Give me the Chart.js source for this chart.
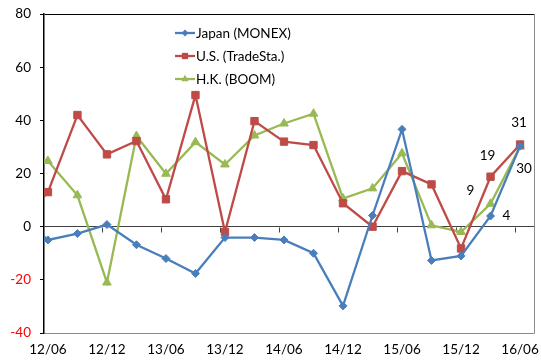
<!DOCTYPE html>
<html>
<head>
<meta charset="utf-8">
<script src="https://cdn.jsdelivr.net/npm/chart.js@4.4.1/dist/chart.umd.min.js"></script>
<style>
  html, body { margin: 0; padding: 0; background: #ffffff; }
  #wrap { width: 541px; height: 360px; }
</style>
</head>
<body>
<div id="wrap"><canvas id="c" width="541" height="360"></canvas></div>
<script>
// Quarterly periods (yy/mm); the first one sits just left of the visible range.
const periods = ['12/03', '12/06', '12/09', '12/12', '13/03', '13/06', '13/09', '13/12', '14/03',
                 '14/06', '14/09', '14/12', '15/03', '15/06', '15/09', '15/12', '16/03', '16/06'];
const tickLabels = ['12/06', '12/12', '13/06', '13/12', '14/06', '14/12', '15/06', '15/12', '16/06'];

const japan = [4.4, -5.0, -2.6, 0.8, -6.8, -12.0, -17.6, -4.1, -4.1,
               -5.0, -10.0, -29.8, 4.2, 36.6, -12.7, -11.0, 4.0, 30.3];
const us    = [0.8, 13.0, 42.0, 27.2, 32.2, 10.3, 49.5, -2.0, 39.7,
               32.0, 30.7, 8.8, 0.0, 20.9, 15.9, -8.2, 18.8, 30.9];
const hk    = [28.3, 24.7, 11.8, -21.0, 34.1, 19.9, 31.8, 23.4, 34.3,
               38.8, 42.5, 10.6, 14.4, 27.6, 0.5, -2.0, 8.6, 30.1];

const seriesNames = ['Japan (MONEX)', 'U.S. (TradeSta.)', 'H.K. (BOOM)'];
// Periods whose values are printed next to the marker, per series.
const labelledPeriods = [['16/03', '16/06'], ['16/03', '16/06'], ['16/03']];

const FONT = 'Lato, "Liberation Sans", sans-serif';
const COLORS = ['#4A7EBB', '#BE4B48', '#98B954'];
const MARKERS = ['rectRot', 'rect', 'triangle'];
const MARKER_R = [4, 5.2, 5];

function monthIndex(p) {
  const [yy, mm] = p.split('/').map(Number);
  return (yy - 12) * 12 + (mm - 6);
}
const xs = periods.map(monthIndex);
const toPoints = vals => vals.map((v, i) => ({ x: xs[i], y: v }));
const tickLabelAt = {};
tickLabels.forEach(t => { tickLabelAt[monthIndex(t)] = t; });

function makeDataset(i, vals) {
  return {
    label: seriesNames[i],
    data: toPoints(vals),
    borderColor: COLORS[i],
    backgroundColor: COLORS[i],
    borderWidth: 2.3,
    pointStyle: MARKERS[i],
    pointRadius: MARKER_R[i],
    pointBorderWidth: 1,
    pointBorderColor: COLORS[i],
    pointBackgroundColor: COLORS[i],
    tension: 0,
    clip: { left: 0, top: 6, right: 6, bottom: 6 }
  };
}

// Marker shapes for the in-plot legend.
function drawMarker(ctx, style, x, y, r, color) {
  ctx.save();
  ctx.fillStyle = color;
  ctx.beginPath();
  if (style === 'rectRot') {
    ctx.moveTo(x, y - r); ctx.lineTo(x + r, y); ctx.lineTo(x, y + r); ctx.lineTo(x - r, y);
  } else if (style === 'rect') {
    const s = r * Math.SQRT1_2;
    ctx.rect(x - s, y - s, 2 * s, 2 * s);
  } else {
    ctx.moveTo(x, y - r);
    ctx.lineTo(x + r * 0.866, y + r * 0.5);
    ctx.lineTo(x - r * 0.866, y + r * 0.5);
  }
  ctx.closePath();
  ctx.fill();
  ctx.restore();
}

// Right frame edge, plus tick marks on the zero line between label periods.
const zeroAxisTicks = {
  id: 'zeroAxisTicks',
  beforeDatasetsDraw(chart) {
    const { ctx, chartArea, scales } = chart;
    const y0 = Math.round(scales.y.getPixelForValue(0)) + 0.5;
    ctx.save();
    ctx.strokeStyle = '#8C8C8C';
    ctx.lineWidth = 1;
    ctx.beginPath();
    ctx.moveTo(Math.round(chartArea.right) - 0.5, chartArea.top);
    ctx.lineTo(Math.round(chartArea.right) - 0.5, chartArea.bottom);
    ctx.stroke();
    ctx.strokeStyle = '#404040';
    ctx.beginPath();
    tickLabels.forEach(t => {
      const v = monthIndex(t) - 0.5;
      if (v <= scales.x.min) return;
      const x = Math.round(scales.x.getPixelForValue(v)) + 0.5;
      ctx.moveTo(x, y0);
      ctx.lineTo(x, y0 + 5);
    });
    ctx.stroke();
    ctx.restore();
  }
};

// Value labels beside selected markers.
const LABEL_OFFSETS = {
  '0:16/03': [12, 0, 'left'],
  '0:16/06': [4, 23, 'center'],
  '1:16/03': [-3, -21, 'center'],
  '1:16/06': [-1, -22, 'center'],
  '2:16/03': [-20, -13, 'center']
};
const valueLabels = {
  id: 'valueLabels',
  afterDatasetsDraw(chart) {
    const { ctx } = chart;
    ctx.save();
    ctx.font = '13.5px ' + FONT;
    ctx.fillStyle = '#000000';
    ctx.textBaseline = 'middle';
    labelledPeriods.forEach((list, di) => {
      const meta = chart.getDatasetMeta(di);
      const vals = chart.data.datasets[di].data;
      list.forEach(p => {
        const idx = periods.indexOf(p);
        const el = meta.data[idx];
        const [dx, dy, align] = LABEL_OFFSETS[di + ':' + p];
        ctx.textAlign = align;
        ctx.fillText(String(Math.round(vals[idx].y)), el.x + dx, el.y + dy);
      });
    });
    ctx.restore();
  }
};

// Legend drawn inside the plot: line segment with marker, then the series name.
const inPlotLegend = {
  id: 'inPlotLegend',
  afterDraw(chart) {
    const { ctx } = chart;
    ctx.save();
    ctx.font = '13.5px ' + FONT;
    ctx.textBaseline = 'middle';
    ctx.textAlign = 'left';
    const x0 = 175, lineLen = 20, rowY = [33, 56, 79];
    chart.data.datasets.forEach((ds, i) => {
      const y = rowY[i];
      ctx.strokeStyle = COLORS[i];
      ctx.lineWidth = 2.3;
      ctx.beginPath();
      ctx.moveTo(x0, y);
      ctx.lineTo(x0 + lineLen, y);
      ctx.stroke();
      drawMarker(ctx, MARKERS[i], x0 + lineLen / 2, y, MARKER_R[i] * 0.85, COLORS[i]);
      ctx.fillStyle = '#000000';
      ctx.fillText(ds.label, x0 + lineLen + 1, y + 1);
    });
    ctx.restore();
  }
};

new Chart(document.getElementById('c'), {
  type: 'line',
  data: {
    datasets: [makeDataset(0, japan), makeDataset(1, us), makeDataset(2, hk)]
  },
  options: {
    responsive: false,
    devicePixelRatio: 1,
    animation: false,
    events: [],
    layout: { padding: { top: 14, right: 1, bottom: 0, left: 0 } },
    plugins: {
      legend: { display: false },
      tooltip: { enabled: false }
    },
    scales: {
      x: {
        type: 'linear',
        min: -0.4,
        max: 49.5,
        afterBuildTicks: s => { s.ticks = tickLabels.map(t => ({ value: monthIndex(t) })); },
        afterFit: s => { s.height = 27; s.paddingLeft = 0; s.paddingRight = 0; },
        ticks: {
          autoSkip: false,
          maxRotation: 0,
          padding: 9,
          color: '#000000',
          font: { family: FONT, size: 13.5 },
          callback: v => tickLabelAt[v] || ''
        },
        grid: { display: false, drawTicks: false },
        border: { display: false }
      },
      y: {
        min: -40,
        max: 80,
        afterFit: s => { s.width = 44; s.paddingTop = 0; s.paddingBottom = 0; },
        ticks: {
          stepSize: 20,
          padding: 9,
          color: c => (c.tick.value < 0 ? '#FF0000' : '#000000'),
          font: { family: FONT, size: 13.5 }
        },
        grid: {
          color: c => {
            const v = c.tick.value;
            if (v === 80) return '#000000';
            if (v === 0) return '#404040';
            if (v === -40) return '#8C8C8C';
            return 'rgba(0,0,0,0)';
          },
          tickColor: '#000000',
          tickLength: 4,
          lineWidth: 1
        },
        border: { display: true, color: '#000000', width: 1.5 }
      }
    }
  },
  plugins: [zeroAxisTicks, valueLabels, inPlotLegend]
});
</script>
</body>
</html>
